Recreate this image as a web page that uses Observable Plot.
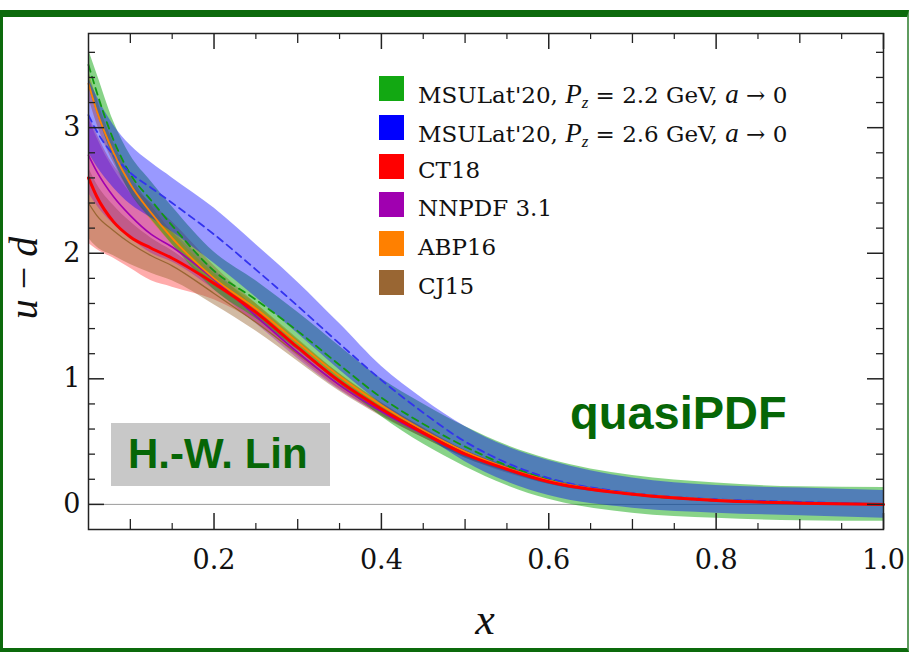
<!DOCTYPE html>
<html>
<head>
<meta charset="utf-8">
<script src="https://cdn.jsdelivr.net/npm/d3@7"></script>
<script src="https://cdn.jsdelivr.net/npm/@observablehq/plot@0.6"></script>
<style>
  html, body { margin: 0; padding: 0; background: #fff; }
  #wrap { position: relative; width: 910px; height: 652px; overflow: hidden; background: #fff; }
  #chart { position: absolute; left: 0; top: 0; }
  .abs { position: absolute; white-space: nowrap; line-height: 1; }
  #border { position: absolute; left: 0; top: 10px; width: 909px; height: 642px; box-sizing: border-box;
            border-top: 7px solid #0c6a0c; border-left: 3px solid #0c6a0c; border-bottom: 4px solid #0c6a0c;
            border-right: 2px solid #5f9c5f; pointer-events: none; }
  .leg { position: absolute; left: 379px; height: 25px; font-family: "DejaVu Serif", serif; font-size: 23px; color: #111; }
  .leg .sw { position: absolute; left: 0; top: 0; width: 25px; height: 25px; }
  .leg .tx { position: absolute; left: 39px; top: 5px; line-height: 1; white-space: nowrap; }
  .m { font-family: "Liberation Serif", serif; font-style: italic; font-size: 27px; }
  .sub { font-family: "Liberation Serif", serif; font-style: italic; font-size: 17px; position: relative; top: 5px; }
</style>
</head>
<body>
<div id="wrap">
  <div id="chart"></div>
  <div id="legend"></div>
  <div class="abs" style="left:111px;top:423px;width:219px;height:63px;background:#c8c8c8;"></div>
  <div class="abs" style="left:128px;top:433px;font-family:'Liberation Sans',Arial,sans-serif;font-weight:bold;font-size:42px;color:#066606;">H.-W. Lin</div>
  <div class="abs" style="left:570px;top:389px;font-family:'Liberation Sans',Arial,sans-serif;font-weight:bold;font-size:47px;color:#066606;">quasiPDF</div>
  <div class="abs" style="left:24px;top:278px;transform:translate(-50%,-50%) rotate(-90deg);font-family:'Liberation Serif',serif;font-size:40px;color:#111;"><i>u</i> − <i>d</i></div>
  <div class="abs" style="left:485px;top:598px;transform:translateX(-50%);font-family:'Liberation Serif',serif;font-style:italic;font-size:44px;color:#111;">x</div>
  <div id="border"></div>
</div>
<script>
// ---- data ----
const xs = [0.05, 0.06, 0.08, 0.1, 0.125, 0.15, 0.2, 0.25, 0.3, 0.35, 0.4, 0.45, 0.5, 0.55, 0.6, 0.7, 0.8, 0.9, 1.0];

const msu22Mid = [3.50, 3.28, 2.90, 2.63, 2.42, 2.22, 1.86, 1.63, 1.38, 1.11, 0.85, 0.64, 0.46, 0.31, 0.20, 0.08, 0.03, 0.01, 0.00];
const msu22Lo  = [3.33, 3.12, 2.75, 2.48, 2.27, 2.07, 1.71, 1.48, 1.23, 0.96, 0.70, 0.48, 0.30, 0.15, 0.04, -0.07, -0.11, -0.13, -0.135];
const msu22Hi  = [3.62, 3.43, 3.05, 2.78, 2.57, 2.37, 2.01, 1.78, 1.53, 1.26, 1.00, 0.80, 0.62, 0.47, 0.36, 0.23, 0.17, 0.14, 0.135];

const msu26Mid = [3.10, 2.97, 2.78, 2.64, 2.52, 2.40, 2.15, 1.87, 1.58, 1.28, 0.99, 0.73, 0.50, 0.33, 0.21, 0.09, 0.04, 0.02, 0.00];
const msu26Lo  = [2.80, 2.69, 2.52, 2.39, 2.28, 2.17, 1.92, 1.65, 1.36, 1.07, 0.80, 0.56, 0.34, 0.18, 0.07, -0.03, -0.07, -0.09, -0.11];
const msu26Hi  = [3.40, 3.25, 3.02, 2.86, 2.72, 2.60, 2.36, 2.07, 1.77, 1.44, 1.10, 0.84, 0.62, 0.46, 0.35, 0.21, 0.15, 0.13, 0.11];

const ct18Mid = [2.60, 2.45, 2.25, 2.13, 2.04, 1.96, 1.76, 1.53, 1.25, 0.98, 0.76, 0.57, 0.40, 0.28, 0.18, 0.08, 0.03, 0.01, 0.00];
const ct18Lo  = [2.08, 2.03, 1.96, 1.88, 1.78, 1.73, 1.63, 1.45, 1.18, 0.92, 0.71, 0.53, 0.37, 0.25, 0.16, 0.07, 0.02, 0.00, -0.01];
const ct18Hi  = [3.10, 2.95, 2.70, 2.55, 2.40, 2.25, 1.90, 1.60, 1.31, 1.04, 0.81, 0.61, 0.43, 0.31, 0.20, 0.09, 0.04, 0.02, 0.01];

const nnpdfMid = [2.78, 2.65, 2.45, 2.30, 2.15, 2.05, 1.79, 1.50, 1.21, 0.95, 0.74, 0.56, 0.40, 0.28, 0.18, 0.08, 0.03, 0.01, 0.00];
const nnpdfLo  = [2.48, 2.38, 2.23, 2.12, 2.00, 1.93, 1.71, 1.44, 1.16, 0.91, 0.71, 0.53, 0.38, 0.26, 0.17, 0.07, 0.025, 0.005, 0.00];
const nnpdfHi  = [3.08, 2.92, 2.67, 2.48, 2.30, 2.17, 1.87, 1.56, 1.26, 0.99, 0.77, 0.59, 0.42, 0.30, 0.19, 0.09, 0.035, 0.015, 0.00];

const abpMid = [3.35, 3.13, 2.80, 2.55, 2.32, 2.12, 1.80, 1.56, 1.29, 1.02, 0.79, 0.59, 0.42, 0.29, 0.19, 0.085, 0.035, 0.01, 0.00];
const abpLo  = [3.24, 3.03, 2.72, 2.48, 2.26, 2.07, 1.76, 1.52, 1.26, 1.00, 0.77, 0.57, 0.41, 0.28, 0.18, 0.08, 0.03, 0.005, -0.005];
const abpHi  = [3.46, 3.23, 2.88, 2.62, 2.38, 2.17, 1.84, 1.60, 1.32, 1.04, 0.81, 0.61, 0.43, 0.30, 0.20, 0.09, 0.04, 0.015, 0.005];

const cj15Mid = [2.40, 2.30, 2.18, 2.08, 1.98, 1.90, 1.68, 1.45, 1.20, 0.95, 0.74, 0.56, 0.40, 0.28, 0.18, 0.08, 0.03, 0.01, 0.00];
const cj15Lo  = [2.12, 2.05, 1.98, 1.91, 1.84, 1.78, 1.59, 1.38, 1.14, 0.90, 0.70, 0.53, 0.37, 0.26, 0.16, 0.07, 0.02, 0.00, -0.005];
const cj15Hi  = [2.68, 2.55, 2.38, 2.25, 2.12, 2.02, 1.77, 1.52, 1.26, 1.00, 0.78, 0.59, 0.43, 0.30, 0.20, 0.09, 0.04, 0.02, 0.005];

const seriesNames = ["MSULat'20, Pz = 2.2 GeV", "MSULat'20, Pz = 2.6 GeV", "CT18", "NNPDF 3.1", "ABP16", "CJ15"];
const legendHtml = [
  "MSULat'20, <span class='m'>P</span><span class='sub'>z</span> = 2.2 GeV, <span class='m'>a</span> → 0",
  "MSULat'20, <span class='m'>P</span><span class='sub'>z</span> = 2.6 GeV, <span class='m'>a</span> → 0",
  "CT18", "NNPDF 3.1", "ABP16", "CJ15"
];
const seriesColors = ["#12a812", "#0000ff", "#ff0000", "#a000b0", "#ff8000", "#996633"];

const xMajor = [0.2, 0.4, 0.6, 0.8, 1.0];
const xMedium = [0.1, 0.3, 0.5, 0.7, 0.9];
const xMinor = [0.15, 0.25, 0.35, 0.45, 0.55, 0.65, 0.75, 0.85, 0.95];
const yMajor = [0, 1, 2, 3];
const yMinor = [0.2, 0.4, 0.6, 0.8, 1.2, 1.4, 1.6, 1.8, 2.2, 2.4, 2.6, 2.8, 3.2, 3.4, 3.6];

// ---- build tables ----
const table = (name, mid, lo, hi) => xs.map((x, i) => ({series: name, x, mid: mid[i], lo: lo[i], hi: hi[i]}));
const dMsu22 = table(seriesNames[0], msu22Mid, msu22Lo, msu22Hi);
const dMsu26 = table(seriesNames[1], msu26Mid, msu26Lo, msu26Hi);
const dCt18 = table(seriesNames[2], ct18Mid, ct18Lo, ct18Hi);
const dNnpdf = table(seriesNames[3], nnpdfMid, nnpdfLo, nnpdfHi);
const dAbp = table(seriesNames[4], abpMid, abpLo, abpHi);
const dCj15 = table(seriesNames[5], cj15Mid, cj15Lo, cj15Hi);

const W = 910, H = 652, mL = 88, mR = 27, mT = 33, mB = 123;
const innerW = W - mL - mR, innerH = H - mT - mB;
const curve = "monotone-x";

const band = (d, color, op) => Plot.areaY(d, {x: "x", y1: "lo", y2: "hi", fill: color, fillOpacity: op, curve});
const line = (d, color, sw, dash) => Plot.lineY(d, {x: "x", y: "mid", stroke: color, strokeWidth: sw, strokeDasharray: dash, curve});

const chart = Plot.plot({
  width: W, height: H,
  marginLeft: mL, marginRight: mR, marginTop: mT, marginBottom: mB,
  style: {background: "transparent", fontFamily: "'DejaVu Serif', serif", color: "#111"},
  x: {domain: [0.05, 1.0]},
  y: {domain: [-0.2, 3.75]},
  marks: [
    Plot.ruleY([0], {stroke: "#9a9a9a", strokeWidth: 1}),
    band(dCt18, seriesColors[2], 0.33),
    band(dCj15, seriesColors[5], 0.45),
    band(dNnpdf, seriesColors[3], 0.35),
    band(dAbp, seriesColors[4], 0.5),
    band(dMsu22, seriesColors[0], 0.5),
    band(dMsu26, seriesColors[1], 0.4),
    line(dMsu22, "#119911", 1.8, "7,5"),
    line(dMsu26, "#3333ee", 1.8, "7,5"),
    line(dCj15, seriesColors[5], 1.3),
    line(dNnpdf, seriesColors[3], 1.6),
    line(dAbp, seriesColors[4], 1.8),
    line(dCt18, seriesColors[2], 3),
    // ticks (inward), bottom & top
    Plot.tickX(xMajor, {x: d => d, insetTop: innerH - 16, stroke: "#222", strokeWidth: 1.5}),
    Plot.tickX(xMedium, {x: d => d, insetTop: innerH - 10, stroke: "#222", strokeWidth: 1.3}),
    Plot.tickX(xMinor, {x: d => d, insetTop: innerH - 6, stroke: "#222", strokeWidth: 1.2}),
    Plot.tickX(xMajor, {x: d => d, insetBottom: innerH - 16, stroke: "#222", strokeWidth: 1.5}),
    Plot.tickX(xMedium, {x: d => d, insetBottom: innerH - 10, stroke: "#222", strokeWidth: 1.3}),
    Plot.tickX(xMinor, {x: d => d, insetBottom: innerH - 6, stroke: "#222", strokeWidth: 1.2}),
    // ticks (inward), left & right
    Plot.tickY(yMajor, {y: d => d, insetRight: innerW - 16, stroke: "#222", strokeWidth: 1.5}),
    Plot.tickY(yMinor, {y: d => d, insetRight: innerW - 7, stroke: "#222", strokeWidth: 1.3}),
    Plot.tickY(yMajor, {y: d => d, insetLeft: innerW - 16, stroke: "#222", strokeWidth: 1.5}),
    Plot.tickY(yMinor, {y: d => d, insetLeft: innerW - 7, stroke: "#222", strokeWidth: 1.3}),
    Plot.axisX(xMajor, {anchor: "bottom", tickSize: 0, tickPadding: 20, fontSize: 27, tickFormat: d => d.toFixed(1), label: null}),
    Plot.axisY(yMajor, {anchor: "left", tickSize: 0, tickPadding: 8, fontSize: 27, tickFormat: d => String(d), label: null}),
    Plot.frame({stroke: "#222", strokeWidth: 1.5})
  ]
});
document.getElementById("chart").appendChild(chart);

// ---- legend ----
const leg = document.getElementById("legend");
seriesNames.forEach((name, i) => {
  const row = document.createElement("div");
  row.className = "leg";
  row.style.top = (76 + i * 38.8) + "px";
  row.innerHTML = `<span class="sw" style="background:${seriesColors[i]}"></span><span class="tx">${legendHtml[i]}</span>`;
  leg.appendChild(row);
});
</script>
</body>
</html>
